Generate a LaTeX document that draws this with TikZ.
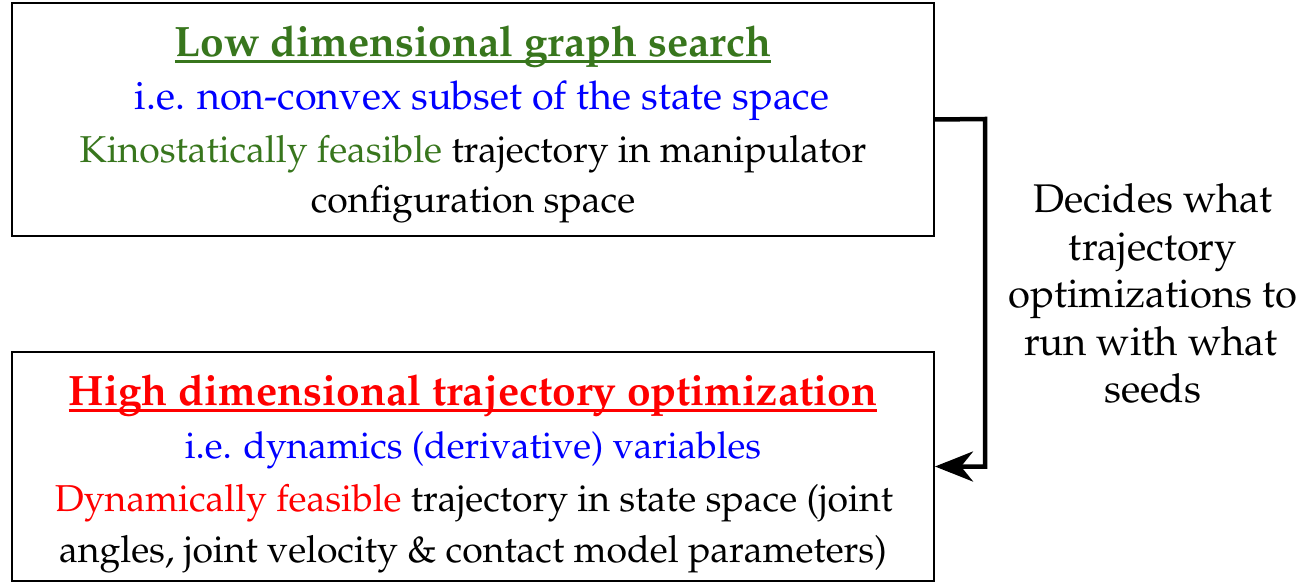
\documentclass[tikz,border=0pt]{standalone}
\usepackage[T1]{fontenc}
\usepackage{mathpazo}
\usetikzlibrary{arrows.meta}
\definecolor{tgreen}{RGB}{56,118,29}
\definecolor{tred}{RGB}{255,0,0}
\definecolor{tblue}{RGB}{0,0,255}
\begin{document}
\begin{tikzpicture}[x=1pt,y=-1pt,
  box/.style={draw=black,line width=2pt,minimum width=922pt,inner sep=0pt},
  ttl/.style={anchor=base,inner sep=0pt,font=\fontsize{42.5}{50}\selectfont\bfseries},
  sub/.style={anchor=base,inner sep=0pt,text=tblue,font=\fontsize{39.5}{48}\selectfont},
  body/.style={anchor=base,inner sep=0pt,font=\fontsize{37.4}{48}\selectfont},
  lbl/.style={anchor=base,inner sep=0pt,font=\fontsize{40}{48}\selectfont},
  uline/.style={line width=3pt},
  conn/.style={line width=4.5pt,-{Stealth[length=38pt,width=30pt,inset=12pt]}}]
\useasboundingbox (0,0) rectangle (1309,583);
\node[box,minimum height=233pt] (b1) at (473,119.5) {};
\node[box,minimum height=229pt] (b2) at (473,466.5) {};
% box 1 text
\node[ttl,text=tgreen] (t1) at (473,57) {Low dimensional graph search};
\draw[uline,tgreen] ([yshift=-5pt]t1.base west) -- ([yshift=-5pt]t1.base east);
\node[sub] (s1) at (482,110) {i.e. non-convex subset of the state space};
\node[body] (k1) at (473,162) {\textcolor{tgreen}{Kinostatically feasible} trajectory in manipulator};
\node[body] (c1) at (473,212) {configuration space};
% box 2 text
\node[ttl,text=tred] (t2) at (473,405) {High dimensional trajectory optimization};
\draw[uline,tred] ([yshift=-5pt]t2.base west) -- ([yshift=-5pt]t2.base east);
\node[sub,font=\fontsize{37.1}{48}\selectfont] (s2) at (473,458) {i.e. dynamics (derivative) variables};
\node[body] (d2) at (474,511) {\textcolor{tred}{Dynamically feasible} trajectory in state space (joint};
\node[body] (a2) at (473,562) {angles, joint velocity \& contact model parameters)};
% side label
\node[lbl] (n1) at (1153,212) {Decides what};
\node[lbl] (n2) at (1153,260) {trajectory};
\node[lbl] (n3) at (1153,307) {optimizations to};
\node[lbl] (n4) at (1151,355) {run with what};
\node[lbl] (n5) at (1153,402) {seeds};
\coordinate (bend) at (985,119);
\draw[conn] (b1.east) -- (bend) |- (b2.east);
\end{tikzpicture}
\end{document}
